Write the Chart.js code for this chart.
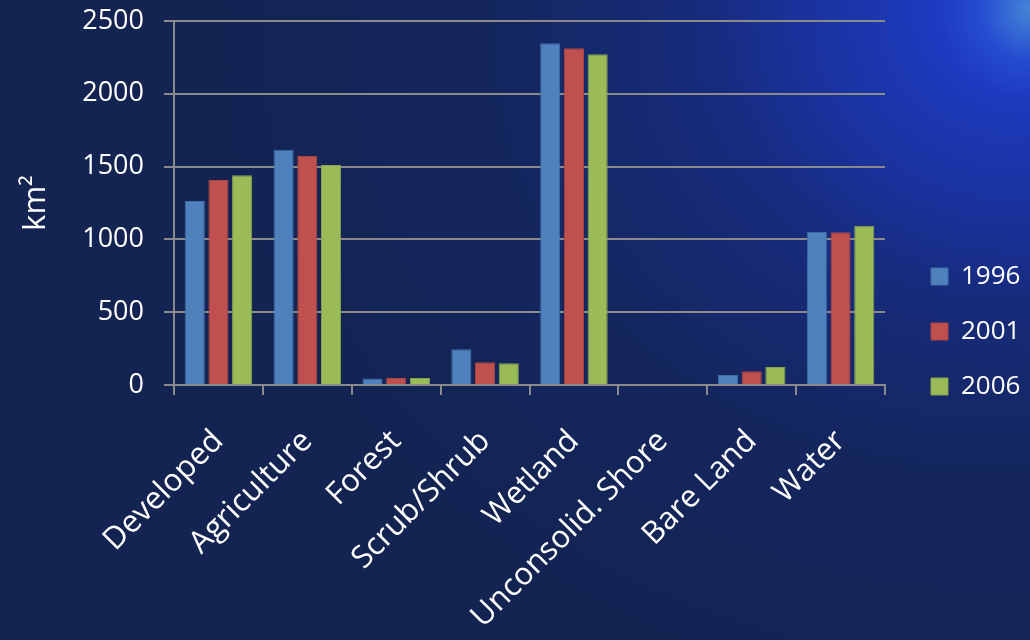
<!DOCTYPE html>
<html>
<head>
<meta charset="utf-8">
<script src="https://cdn.jsdelivr.net/npm/chart.js@4.4.1/dist/chart.umd.min.js"></script>
<style>
  html, body { margin:0; padding:0; width:1030px; height:640px; overflow:hidden; }
  body {
    background:
      radial-gradient(ellipse 90px 90px at 1030px 10px, rgba(110,220,210,0.45) 0%, rgba(60,140,220,0.2) 55%, rgba(25,50,170,0) 100%),
      radial-gradient(ellipse 320px 300px at 1030px 0px, rgba(35,65,230,0.85) 0%, rgba(30,60,200,0.55) 45%, rgba(25,50,170,0) 100%),
      radial-gradient(ellipse 780px 660px at 1000px 40px, #1a34a6 0%, #172c80 35%, #14265e 65%, #132453 100%);
  }
  #wrap { position:absolute; left:0; top:0; width:1030px; height:640px; }
</style>
</head>
<body>
<div id="wrap"><canvas id="c" width="1030" height="640"></canvas></div>
<script>
const categories = ["Developed", "Agriculture", "Forest", "Scrub/Shrub", "Wetland", "Unconsolid. Shore", "Bare Land", "Water"];
const seriesNames = ["1996", "2001", "2006"];
const values1996 = [1264, 1615, 45, 245, 2347, 0, 69, 1053];
const values2001 = [1408, 1573, 48, 156, 2312, 0, 94, 1049];
const values2006 = [1440, 1511, 48, 149, 2271, 0, 124, 1094];
const yTicks = [0, 500, 1000, 1500, 2000, 2500];
const yTitle = "km²";

const fillColors = ["#4F81BD", "#C0504D", "#9BBB59"];
const borderColors = ["#3f6ea8", "#a9433f", "#86a34a"];
const FONT = "'Open Sans', 'DejaVu Sans', sans-serif";

const fixLayout = {
  id: 'fixLayout',
  beforeInit(chart) {
    const lg = chart.legend;
    if (lg) {
      const origFit = lg.fit.bind(lg);
      lg.fit = function() { origFit(); this.width = 145; };
    }
  },
  afterLayout(chart) {
    const lg = chart.legend;
    if (lg) { lg.left += 17; lg.right += 17; lg.top += 1; lg.bottom += 1; }
  }
};

new Chart(document.getElementById('c'), {
  type: 'bar',
  data: {
    labels: categories,
    datasets: [values1996, values2001, values2006].map((v, i) => ({
      label: seriesNames[i],
      data: v,
      backgroundColor: fillColors[i],
      borderColor: borderColors[i],
      borderWidth: 1,
      categoryPercentage: 0.8,
      barPercentage: 0.85
    }))
  },
  plugins: [fixLayout],
  options: {
    responsive: false,
    animation: false,
    layout: { padding: { left: 18, top: 21, right: 0, bottom: 0 } },
    plugins: {
      tooltip: { enabled: false },
      legend: {
        position: 'right',
        labels: {
          color: '#ffffff',
          font: { family: FONT, size: 26 },
          boxWidth: 17,
          boxHeight: 17,
          padding: 29
        }
      }
    },
    scales: {
      x: {
        afterFit(scale) { scale.height = 255; scale.paddingLeft = 0; scale.paddingRight = 0; },
        grid: { display: true, drawOnChartArea: false, drawTicks: true, tickLength: 10, color: '#8a8a8a', lineWidth: 2 },
        border: { display: true, color: '#8a8a8a', width: 2 },
        ticks: {
          color: '#ffffff',
          font: { family: FONT, size: 31 },
          minRotation: 45, maxRotation: 45,
          autoSkip: false,
          padding: 28
        }
      },
      y: {
        min: 0, max: 2500,
        afterFit(scale) { scale.width = 174 - 18; scale.paddingTop = 0; scale.paddingBottom = 0; },
        afterBuildTicks(scale) { scale.ticks = yTicks.map(v => ({ value: v })); },
        grid: { color: '#8a8a8a', lineWidth: 2, drawTicks: true, tickLength: 10 },
        border: { display: true, color: '#8a8a8a', width: 2 },
        ticks: {
          color: '#ffffff',
          font: { family: FONT, size: 27 },
          padding: 20,
          callback: (v) => String(v)
        },
        title: {
          display: true,
          text: yTitle,
          color: '#ffffff',
          font: { family: FONT, size: 31 },
          padding: 0
        }
      }
    }
  }
});
</script>
</body>
</html>
